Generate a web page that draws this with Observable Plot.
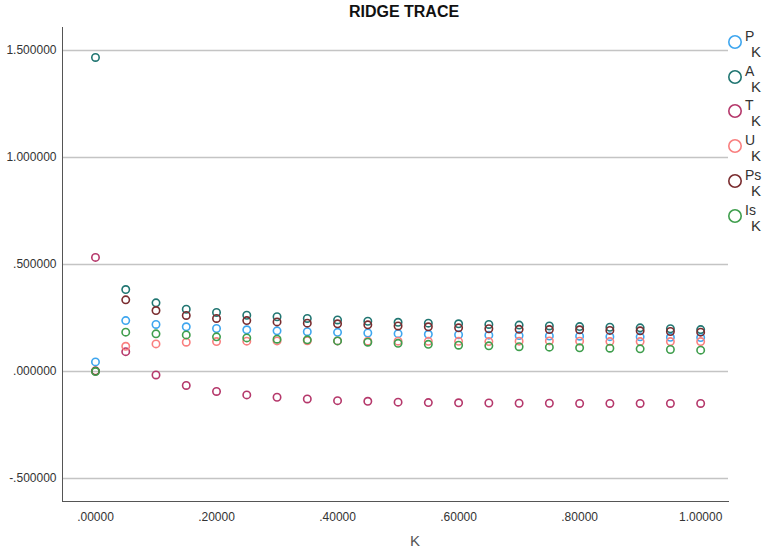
<!DOCTYPE html>
<html><head><meta charset="utf-8">
<script src="https://cdn.jsdelivr.net/npm/d3@7"></script>
<script src="https://cdn.jsdelivr.net/npm/@observablehq/plot@0.6"></script>
<style>
body{margin:0;background:#fff;font-family:"Liberation Sans",Arial,sans-serif;}
#wrap{position:relative;width:767px;height:550px;overflow:hidden;}
#chart{position:absolute;left:0;top:0;}
#title{position:absolute;left:304px;width:200px;top:3px;text-align:center;font-weight:bold;font-size:16px;line-height:18px;color:#111;}
#xlabel{position:absolute;left:395px;width:40px;top:532px;text-align:center;font-size:15px;line-height:18px;color:#555;}
.lg{position:absolute;}
.lg .nm{position:absolute;font-size:14px;line-height:14px;color:#333;white-space:nowrap;}
.lg .kk{position:absolute;font-size:15px;line-height:15px;color:#333;}
</style></head>
<body>
<div id="wrap">
  <div id="chart"></div>
  <div id="title">RIDGE TRACE</div>
  <div id="xlabel">K</div>
  <div id="legend"></div>
</div>
<script>
// ---- data ----
const K = [0, 0.05, 0.10, 0.15, 0.20, 0.25, 0.30, 0.35, 0.40, 0.45, 0.50,
           0.55, 0.60, 0.65, 0.70, 0.75, 0.80, 0.85, 0.90, 0.95, 1.00];
const P  = [0.045, 0.238, 0.220, 0.209, 0.201, 0.195, 0.190, 0.186, 0.183, 0.180, 0.177,
            0.174, 0.172, 0.170, 0.168, 0.166, 0.165, 0.163, 0.162, 0.160, 0.159];
const A  = [1.467, 0.383, 0.321, 0.291, 0.276, 0.263, 0.256, 0.248, 0.241, 0.235, 0.230,
            0.226, 0.223, 0.220, 0.217, 0.213, 0.210, 0.207, 0.204, 0.200, 0.196];
const T  = [0.533, 0.093, -0.016, -0.065, -0.093, -0.109, -0.120, -0.128, -0.136, -0.139, -0.143,
            -0.145, -0.146, -0.147, -0.148, -0.148, -0.149, -0.149, -0.149, -0.149, -0.149];
const U  = [0.003, 0.118, 0.129, 0.137, 0.140, 0.142, 0.143, 0.144, 0.143, 0.142, 0.142,
            0.141, 0.141, 0.140, 0.142, 0.143, 0.142, 0.140, 0.140, 0.140, 0.140];
const Ps = [0.002, 0.335, 0.285, 0.262, 0.248, 0.238, 0.232, 0.226, 0.223, 0.218, 0.213,
            0.209, 0.204, 0.200, 0.197, 0.196, 0.195, 0.192, 0.190, 0.187, 0.184];
const Is = [0.000, 0.184, 0.176, 0.171, 0.162, 0.157, 0.151, 0.148, 0.143, 0.137, 0.132,
            0.127, 0.123, 0.120, 0.116, 0.114, 0.111, 0.109, 0.106, 0.103, 0.100];
const seriesNames = ["P", "A", "T", "U", "Ps", "Is"];
const seriesValues = [P, A, T, U, Ps, Is];
const colors = ["#3ea6ef", "#217672", "#b5386b", "#f97f7f", "#7a2c2f", "#3f9e4d"];
const xTicks = [0, 0.2, 0.4, 0.6, 0.8, 1.0];
const yTicks = [-0.5, 0, 0.5, 1.0, 1.5];

// ---- build table ----
const data = [];
seriesNames.forEach((s, i) => K.forEach((k, j) => data.push({k, v: seriesValues[i][j], s})));

const fmt = n => v => d3.format("." + n + "f")(v).replace(/\u2212/g, "-").replace(/^(-?)0\./, "$1.");

const chart = Plot.plot({
  width: 767, height: 550,
  marginLeft: 62, marginRight: 39, marginTop: 27, marginBottom: 49,
  style: {fontFamily: "Liberation Sans, Arial, sans-serif", fontSize: "12px", color: "#333", background: "transparent"},
  x: {domain: [-0.0545, 1.046], ticks: xTicks, tickFormat: fmt(5), tickSize: 0, tickPadding: 11, label: null},
  y: {domain: [-0.607, 1.607], ticks: yTicks, tickFormat: fmt(6), tickSize: 0, tickPadding: 6, label: null},
  color: {domain: seriesNames, range: colors},
  marks: [
    Plot.ruleY(yTicks, {stroke: "#c4c4c4", strokeWidth: 1.5}),
    Plot.frame({anchor: "left", stroke: "#555", strokeWidth: 1}),
    Plot.frame({anchor: "bottom", stroke: "#555", strokeWidth: 1}),
    Plot.dot(data, {x: "k", y: "v", stroke: "s", r: 3.7, strokeWidth: 1.6})
  ]
});
document.getElementById("chart").appendChild(chart);

// ---- legend ----
const legend = document.getElementById("legend");
seriesNames.forEach((s, i) => {
  const cy = 42 + i * 34.7;
  const g = document.createElement("div");
  g.className = "lg";
  g.style.left = "0px"; g.style.top = "0px";
  g.innerHTML =
    `<svg style="position:absolute;left:727px;top:${cy - 8}px" width="16" height="16"><circle cx="8" cy="8" r="6.2" fill="none" stroke="${colors[i]}" stroke-width="1.6"/></svg>` +
    `<div class="nm" style="left:745px;top:${cy - 13}px">${s}</div>` +
    `<div class="kk" style="left:751px;top:${cy + 2}px">K</div>`;
  legend.appendChild(g);
});
</script>
</body></html>
